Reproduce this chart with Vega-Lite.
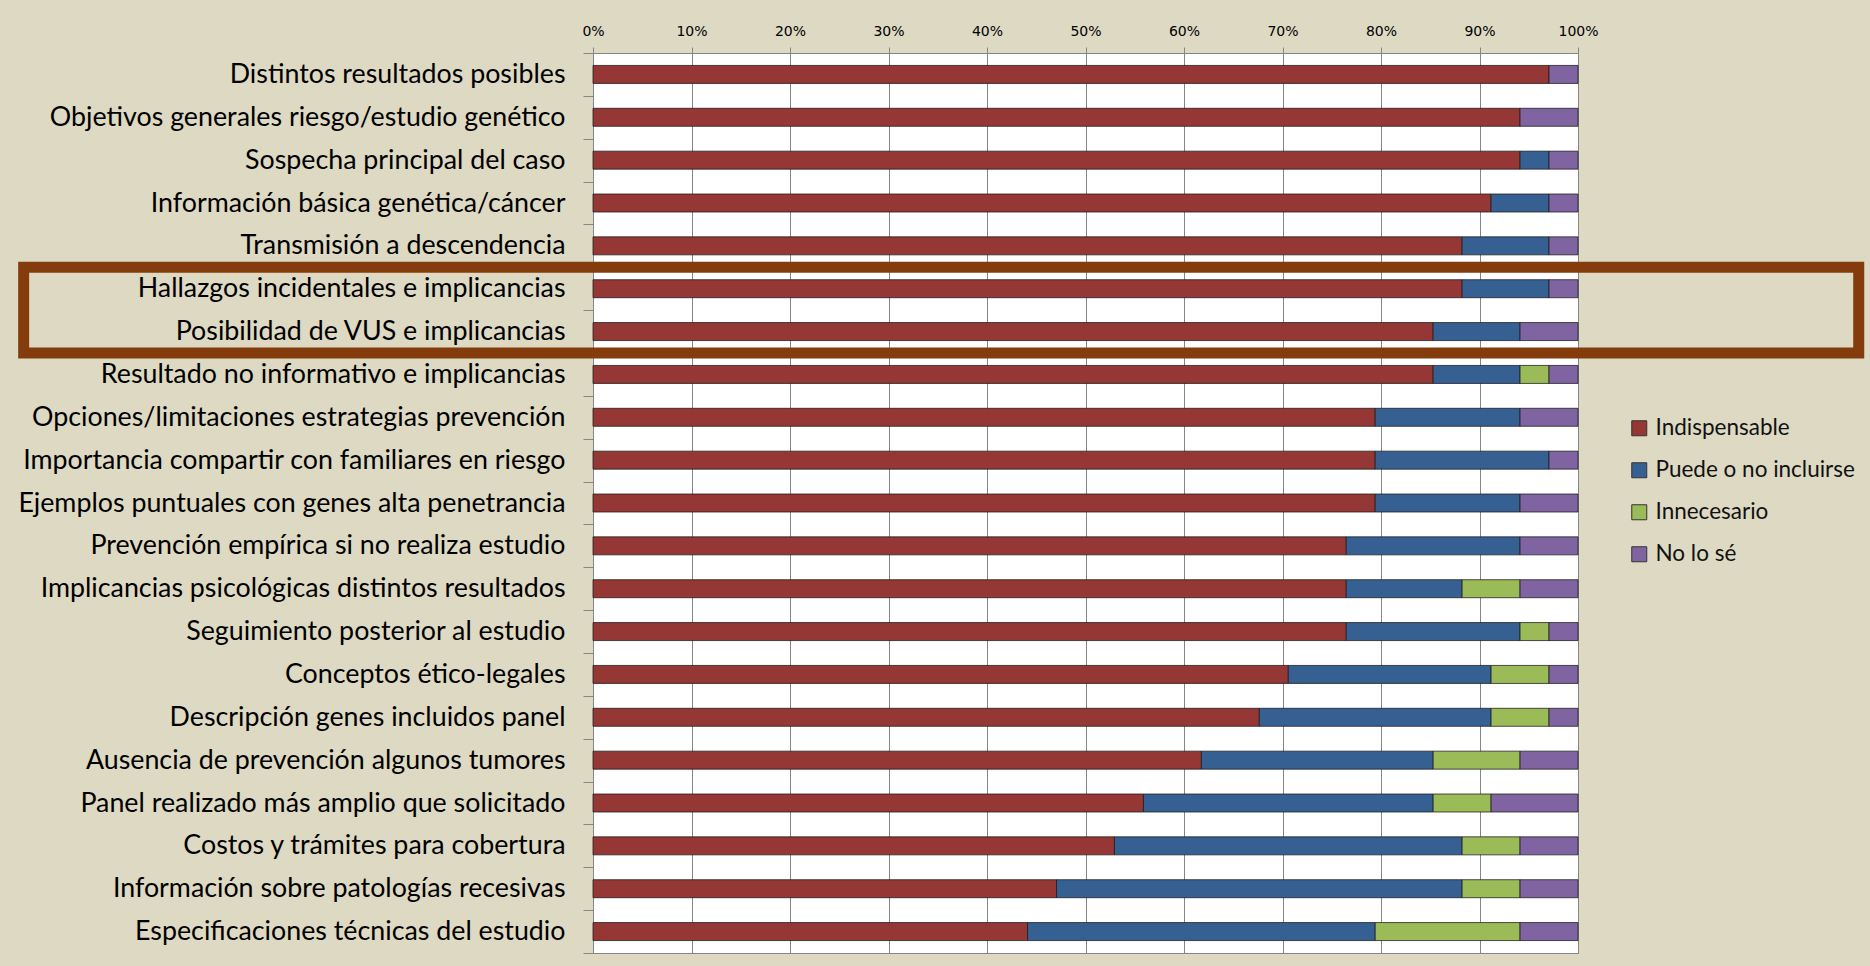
{
  "$schema": "https://vega.github.io/schema/vega-lite/v6.json",
  "width": 985,
  "height": 900,
  "autosize": {"type": "none"},
  "padding": {"left": 593, "top": 53, "right": 292, "bottom": 13},
  "background": "#DDD9C3",
  "config": {"view": {"fill": "white", "stroke": "#868686", "strokeWidth": 1}, "font": "Lato"},
  "datasets": {
    "respuestas": [
      {"item": "Distintos resultados posibles", "respuesta": "Indispensable", "codigo": 1, "n": 33},
      {"item": "Distintos resultados posibles", "respuesta": "No lo sé", "codigo": 4, "n": 1},
      {"item": "Objetivos generales riesgo/estudio genético", "respuesta": "Indispensable", "codigo": 1, "n": 32},
      {"item": "Objetivos generales riesgo/estudio genético", "respuesta": "No lo sé", "codigo": 4, "n": 2},
      {"item": "Sospecha principal del caso", "respuesta": "Indispensable", "codigo": 1, "n": 32},
      {"item": "Sospecha principal del caso", "respuesta": "Puede o no incluirse", "codigo": 2, "n": 1},
      {"item": "Sospecha principal del caso", "respuesta": "No lo sé", "codigo": 4, "n": 1},
      {"item": "Información básica genética/cáncer", "respuesta": "Indispensable", "codigo": 1, "n": 31},
      {"item": "Información básica genética/cáncer", "respuesta": "Puede o no incluirse", "codigo": 2, "n": 2},
      {"item": "Información básica genética/cáncer", "respuesta": "No lo sé", "codigo": 4, "n": 1},
      {"item": "Transmisión a descendencia", "respuesta": "Indispensable", "codigo": 1, "n": 30},
      {"item": "Transmisión a descendencia", "respuesta": "Puede o no incluirse", "codigo": 2, "n": 3},
      {"item": "Transmisión a descendencia", "respuesta": "No lo sé", "codigo": 4, "n": 1},
      {"item": "Hallazgos incidentales e implicancias", "respuesta": "Indispensable", "codigo": 1, "n": 30},
      {"item": "Hallazgos incidentales e implicancias", "respuesta": "Puede o no incluirse", "codigo": 2, "n": 3},
      {"item": "Hallazgos incidentales e implicancias", "respuesta": "No lo sé", "codigo": 4, "n": 1},
      {"item": "Posibilidad de VUS e implicancias", "respuesta": "Indispensable", "codigo": 1, "n": 29},
      {"item": "Posibilidad de VUS e implicancias", "respuesta": "Puede o no incluirse", "codigo": 2, "n": 3},
      {"item": "Posibilidad de VUS e implicancias", "respuesta": "No lo sé", "codigo": 4, "n": 2},
      {"item": "Resultado no informativo e implicancias", "respuesta": "Indispensable", "codigo": 1, "n": 29},
      {"item": "Resultado no informativo e implicancias", "respuesta": "Puede o no incluirse", "codigo": 2, "n": 3},
      {"item": "Resultado no informativo e implicancias", "respuesta": "Innecesario", "codigo": 3, "n": 1},
      {"item": "Resultado no informativo e implicancias", "respuesta": "No lo sé", "codigo": 4, "n": 1},
      {"item": "Opciones/limitaciones estrategias prevención", "respuesta": "Indispensable", "codigo": 1, "n": 27},
      {"item": "Opciones/limitaciones estrategias prevención", "respuesta": "Puede o no incluirse", "codigo": 2, "n": 5},
      {"item": "Opciones/limitaciones estrategias prevención", "respuesta": "No lo sé", "codigo": 4, "n": 2},
      {"item": "Importancia compartir con familiares en riesgo", "respuesta": "Indispensable", "codigo": 1, "n": 27},
      {"item": "Importancia compartir con familiares en riesgo", "respuesta": "Puede o no incluirse", "codigo": 2, "n": 6},
      {"item": "Importancia compartir con familiares en riesgo", "respuesta": "No lo sé", "codigo": 4, "n": 1},
      {"item": "Ejemplos puntuales con genes alta penetrancia", "respuesta": "Indispensable", "codigo": 1, "n": 27},
      {"item": "Ejemplos puntuales con genes alta penetrancia", "respuesta": "Puede o no incluirse", "codigo": 2, "n": 5},
      {"item": "Ejemplos puntuales con genes alta penetrancia", "respuesta": "No lo sé", "codigo": 4, "n": 2},
      {"item": "Prevención empírica si no realiza estudio", "respuesta": "Indispensable", "codigo": 1, "n": 26},
      {"item": "Prevención empírica si no realiza estudio", "respuesta": "Puede o no incluirse", "codigo": 2, "n": 6},
      {"item": "Prevención empírica si no realiza estudio", "respuesta": "No lo sé", "codigo": 4, "n": 2},
      {"item": "Implicancias psicológicas distintos resultados", "respuesta": "Indispensable", "codigo": 1, "n": 26},
      {"item": "Implicancias psicológicas distintos resultados", "respuesta": "Puede o no incluirse", "codigo": 2, "n": 4},
      {"item": "Implicancias psicológicas distintos resultados", "respuesta": "Innecesario", "codigo": 3, "n": 2},
      {"item": "Implicancias psicológicas distintos resultados", "respuesta": "No lo sé", "codigo": 4, "n": 2},
      {"item": "Seguimiento posterior al estudio", "respuesta": "Indispensable", "codigo": 1, "n": 26},
      {"item": "Seguimiento posterior al estudio", "respuesta": "Puede o no incluirse", "codigo": 2, "n": 6},
      {"item": "Seguimiento posterior al estudio", "respuesta": "Innecesario", "codigo": 3, "n": 1},
      {"item": "Seguimiento posterior al estudio", "respuesta": "No lo sé", "codigo": 4, "n": 1},
      {"item": "Conceptos ético-legales ", "respuesta": "Indispensable", "codigo": 1, "n": 24},
      {"item": "Conceptos ético-legales ", "respuesta": "Puede o no incluirse", "codigo": 2, "n": 7},
      {"item": "Conceptos ético-legales ", "respuesta": "Innecesario", "codigo": 3, "n": 2},
      {"item": "Conceptos ético-legales ", "respuesta": "No lo sé", "codigo": 4, "n": 1},
      {"item": "Descripción genes incluidos panel", "respuesta": "Indispensable", "codigo": 1, "n": 23},
      {"item": "Descripción genes incluidos panel", "respuesta": "Puede o no incluirse", "codigo": 2, "n": 8},
      {"item": "Descripción genes incluidos panel", "respuesta": "Innecesario", "codigo": 3, "n": 2},
      {"item": "Descripción genes incluidos panel", "respuesta": "No lo sé", "codigo": 4, "n": 1},
      {"item": "Ausencia de prevención algunos tumores", "respuesta": "Indispensable", "codigo": 1, "n": 21},
      {"item": "Ausencia de prevención algunos tumores", "respuesta": "Puede o no incluirse", "codigo": 2, "n": 8},
      {"item": "Ausencia de prevención algunos tumores", "respuesta": "Innecesario", "codigo": 3, "n": 3},
      {"item": "Ausencia de prevención algunos tumores", "respuesta": "No lo sé", "codigo": 4, "n": 2},
      {"item": "Panel realizado más amplio que solicitado", "respuesta": "Indispensable", "codigo": 1, "n": 19},
      {"item": "Panel realizado más amplio que solicitado", "respuesta": "Puede o no incluirse", "codigo": 2, "n": 10},
      {"item": "Panel realizado más amplio que solicitado", "respuesta": "Innecesario", "codigo": 3, "n": 2},
      {"item": "Panel realizado más amplio que solicitado", "respuesta": "No lo sé", "codigo": 4, "n": 3},
      {"item": "Costos y trámites para cobertura", "respuesta": "Indispensable", "codigo": 1, "n": 18},
      {"item": "Costos y trámites para cobertura", "respuesta": "Puede o no incluirse", "codigo": 2, "n": 12},
      {"item": "Costos y trámites para cobertura", "respuesta": "Innecesario", "codigo": 3, "n": 2},
      {"item": "Costos y trámites para cobertura", "respuesta": "No lo sé", "codigo": 4, "n": 2},
      {"item": "Información sobre patologías recesivas", "respuesta": "Indispensable", "codigo": 1, "n": 16},
      {"item": "Información sobre patologías recesivas", "respuesta": "Puede o no incluirse", "codigo": 2, "n": 14},
      {"item": "Información sobre patologías recesivas", "respuesta": "Innecesario", "codigo": 3, "n": 2},
      {"item": "Información sobre patologías recesivas", "respuesta": "No lo sé", "codigo": 4, "n": 2},
      {"item": "Especificaciones técnicas del estudio ", "respuesta": "Indispensable", "codigo": 1, "n": 15},
      {"item": "Especificaciones técnicas del estudio ", "respuesta": "Puede o no incluirse", "codigo": 2, "n": 12},
      {"item": "Especificaciones técnicas del estudio ", "respuesta": "Innecesario", "codigo": 3, "n": 5},
      {"item": "Especificaciones técnicas del estudio ", "respuesta": "No lo sé", "codigo": 4, "n": 2}
    ],
    "marco": [
      {"desde": "Hallazgos incidentales e implicancias", "hasta": "Posibilidad de VUS e implicancias", "izq": -0.578, "der": 1.285}
    ]
  },
  "layer": [
    {
      "data": {"name": "respuestas"},
      "mark": {"type": "bar", "height": {"band": 0.42}, "stroke": "#1a1a1a", "strokeWidth": 1, "strokeOpacity": 0.75},
      "encoding": {
        "y": {
          "field": "item", "type": "nominal",
          "scale": {
            "domain": [
              "Distintos resultados posibles",
              "Objetivos generales riesgo/estudio genético",
              "Sospecha principal del caso",
              "Información básica genética/cáncer",
              "Transmisión a descendencia",
              "Hallazgos incidentales e implicancias",
              "Posibilidad de VUS e implicancias",
              "Resultado no informativo e implicancias",
              "Opciones/limitaciones estrategias prevención",
              "Importancia compartir con familiares en riesgo",
              "Ejemplos puntuales con genes alta penetrancia",
              "Prevención empírica si no realiza estudio",
              "Implicancias psicológicas distintos resultados",
              "Seguimiento posterior al estudio",
              "Conceptos ético-legales ",
              "Descripción genes incluidos panel",
              "Ausencia de prevención algunos tumores",
              "Panel realizado más amplio que solicitado",
              "Costos y trámites para cobertura",
              "Información sobre patologías recesivas",
              "Especificaciones técnicas del estudio "
            ],
            "paddingInner": 0, "paddingOuter": 0
          },
          "axis": {
            "title": null, "labelFont": "Lato", "labelFontSize": 26.8, "labelColor": "#000000",
            "labelPadding": 18, "labelLimit": 0, "tickSize": 10, "tickColor": "#868686",
            "domainColor": "#868686", "tickBand": "extent"
          }
        },
        "x": {
          "field": "n", "type": "quantitative", "stack": "normalize",
          "scale": {"domain": [0, 1]},
          "axis": {
            "orient": "top", "format": ".0%", "title": null, "tickCount": 10,
            "grid": true, "gridColor": "#868686", "gridWidth": 1, "domain": false,
            "tickColor": "#868686", "tickSize": 6, "labelFont": "DejaVu Sans",
            "labelFontSize": 14, "labelColor": "#000000", "labelPadding": 9, "labelFlush": false
          }
        },
        "color": {
          "field": "respuesta", "type": "nominal",
          "scale": {
            "domain": ["Indispensable", "Puede o no incluirse", "Innecesario", "No lo sé"],
            "range": ["#953735", "#376092", "#9BBB59", "#8064A2"]
          },
          "legend": {
            "orient": "none", "legendX": 1035, "legendY": 364, "title": null,
            "symbolType": "square", "symbolSize": 225, "symbolStrokeColor": "#333333",
            "symbolStrokeWidth": 1, "labelFont": "Lato", "labelFontSize": 22.5,
            "labelColor": "#111111", "labelLimit": 0, "rowPadding": 19, "labelOffset": 5, "padding": 0
          }
        },
        "order": {"field": "codigo", "type": "quantitative", "sort": "ascending"}
      }
    },
    {
      "data": {"name": "marco"},
      "mark": {"type": "rect", "filled": false, "stroke": "#843C0C", "strokeWidth": 11, "clip": false},
      "encoding": {
        "y": {"field": "desde", "type": "nominal", "bandPosition": 0},
        "y2": {"field": "hasta", "bandPosition": 1},
        "x": {"field": "izq", "type": "quantitative"},
        "x2": {"field": "der"}
      }
    }
  ]
}
